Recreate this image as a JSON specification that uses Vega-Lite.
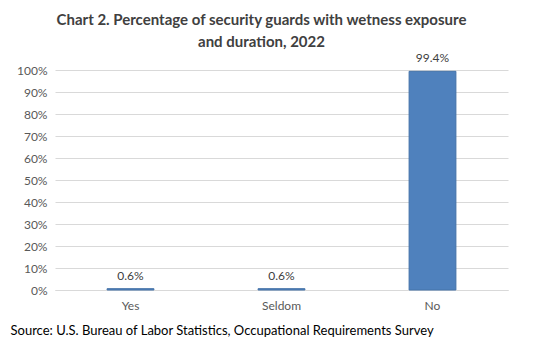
{
  "$schema": "https://vega.github.io/schema/vega-lite/v6.json",
  "autosize": {"type": "none"},
  "width": 453,
  "height": 220,
  "padding": {"left": 55, "top": 70, "right": 43, "bottom": 61},
  "background": "white",
  "title": {
    "text": ["Chart 2. Percentage of security guards with wetness exposure", "and duration, 2022"],
    "font": "Lato",
    "fontSize": 15,
    "fontWeight": "bold",
    "color": "#404040",
    "anchor": "middle",
    "dx": -20,
    "offset": 2,
    "lineHeight": 22
  },
  "data": {
    "values": [
      {"category": "Yes", "value": 0.006},
      {"category": "Seldom", "value": 0.006},
      {"category": "No", "value": 0.994}
    ]
  },
  "encoding": {
    "x": {
      "field": "category",
      "type": "nominal",
      "sort": null,
      "scale": {"paddingInner": 0.69, "paddingOuter": 0.345},
      "axis": {
        "title": "Source: U.S. Bureau of Labor Statistics, Occupational Requirements Survey",
        "titleFont": "Lato",
        "titleFontSize": 13,
        "titleFontWeight": "normal",
        "titleColor": "#000000",
        "titleAnchor": "start",
        "titleAlign": "left",
        "titleX": -45,
        "titleY": 44,
        "titleBaseline": "alphabetic",
        "labelAngle": 0,
        "labelFont": "Lato",
        "labelFontSize": 12,
        "labelColor": "#595959",
        "labelPadding": 10,
        "ticks": false,
        "domainColor": "#d9d9d9"
      }
    },
    "y": {
      "field": "value",
      "type": "quantitative",
      "scale": {"domain": [0, 1]},
      "axis": {
        "title": null,
        "format": ".0%",
        "values": [0, 0.1, 0.2, 0.3, 0.4, 0.5, 0.6, 0.7, 0.8, 0.9, 1],
        "labelFont": "Lato",
        "labelFontSize": 12,
        "labelColor": "#595959",
        "labelPadding": 8,
        "ticks": false,
        "domain": false,
        "gridColor": "#d9d9d9"
      }
    }
  },
  "layer": [
    {"mark": {"type": "bar", "color": "#4f81bd", "stroke": "#4472a8", "strokeWidth": 1}},
    {
      "mark": {"type": "text", "dy": -13, "font": "Lato", "fontSize": 12, "color": "#404040"},
      "encoding": {"text": {"field": "value", "type": "quantitative", "format": ".1%"}}
    }
  ],
  "config": {"view": {"stroke": null}}
}
